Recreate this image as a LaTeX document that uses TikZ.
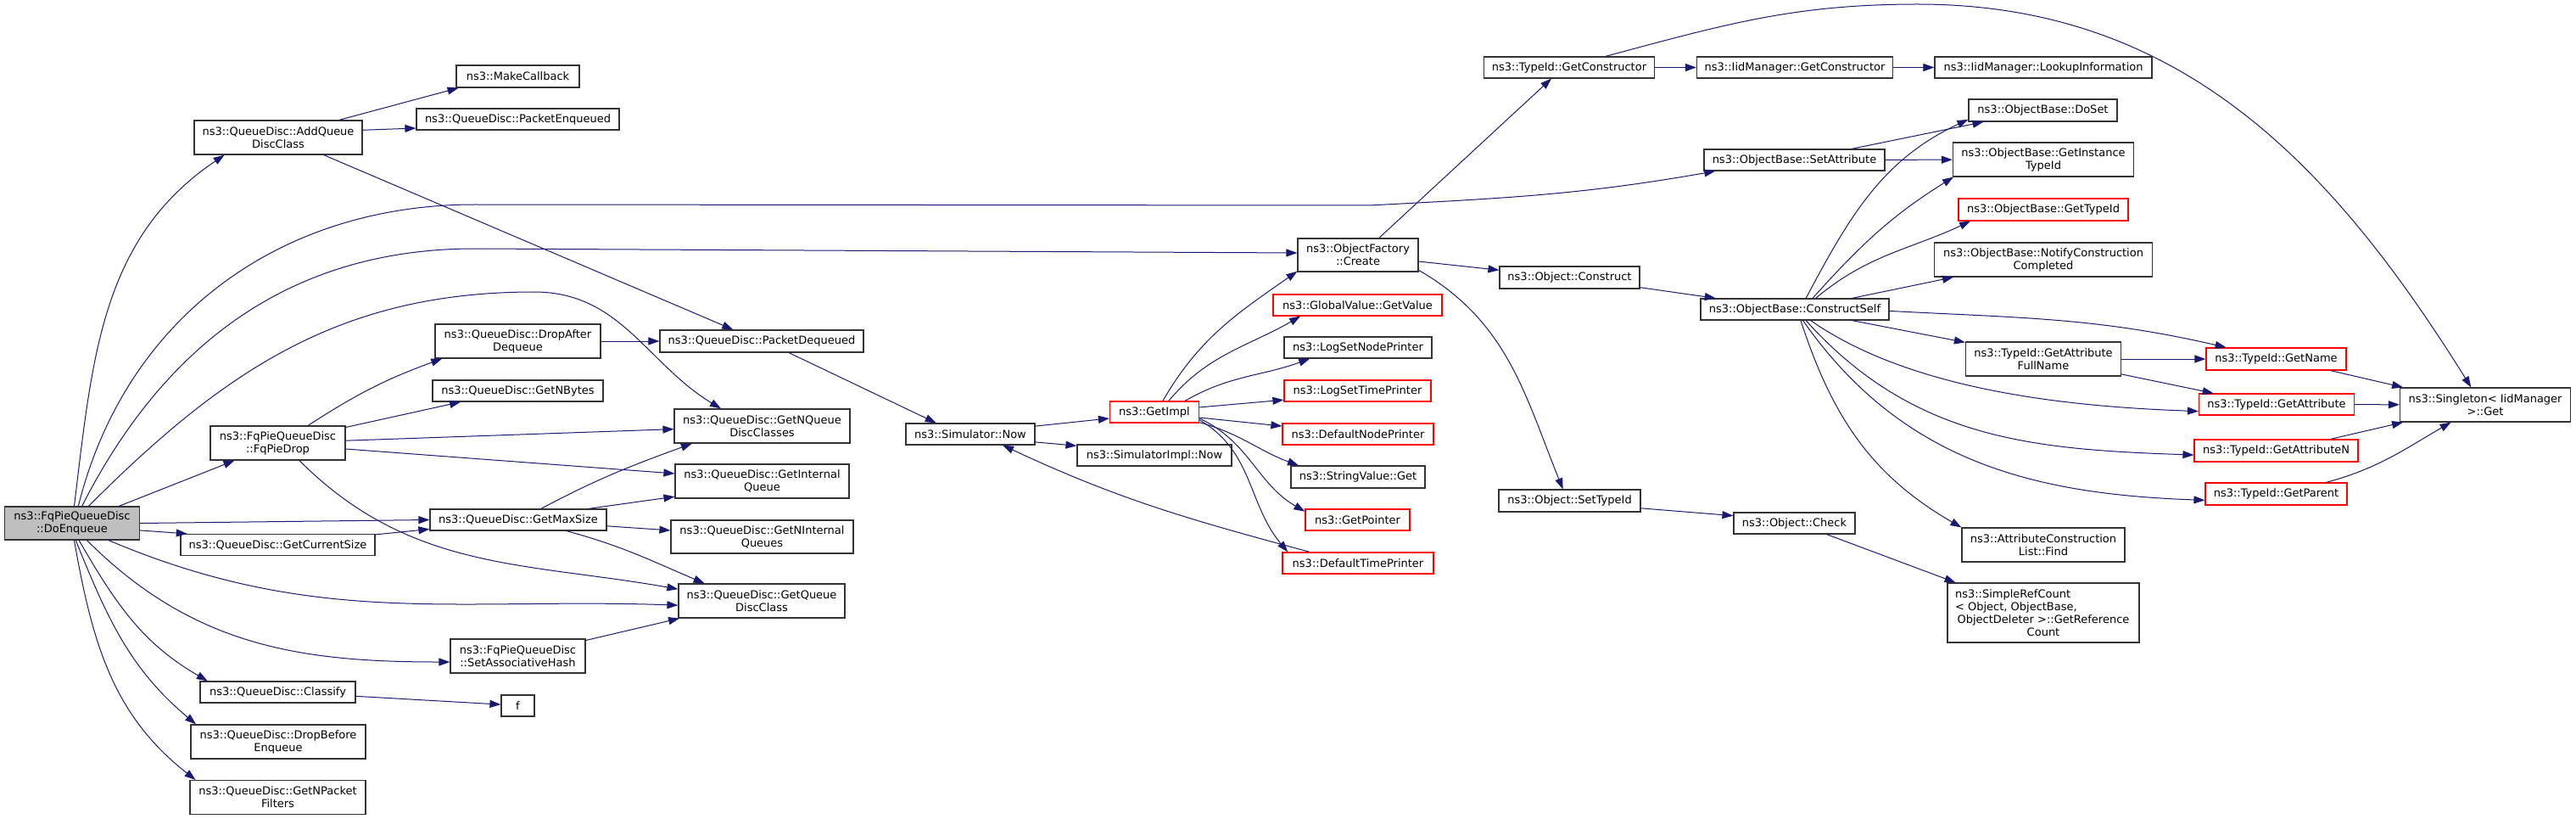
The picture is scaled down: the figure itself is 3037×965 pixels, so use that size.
\documentclass[tikz,border=0pt]{standalone}
\usepackage{fontspec}
\setmainfont{DejaVu Sans}
\usetikzlibrary{arrows.meta}
\definecolor{edgeblue}{RGB}{25,25,112}
\definecolor{rootgray}{RGB}{191,191,191}

\begin{document}
\begin{tikzpicture}[x=1pt,y=1pt,->,>={Triangle[length=13pt,width=9pt]},
  every edge/.style={draw=edgeblue,line width=1pt},
  call/.style={draw=edgeblue,line width=1pt},
  fn node/.style={rectangle,draw=black!80,fill=white,line width=1.2pt,inner sep=0pt,
    align=center,font=\fontsize{13}{15}\selectfont},
  miss node/.style={fn node,draw=red},
  root node/.style={fn node,fill=rootgray},
  wh/.style 2 args={minimum width=#1pt,minimum height=#2pt}]

  \useasboundingbox (0,0) rectangle (3037,-965);

  \node[root node,wh={159}{39}] (enq) at (85,-616.5) {ns3::FqPieQueueDisc\\::DoEnqueue};
  \node[fn node,wh={198}{40}] (addq) at (328,-162) {ns3::QueueDisc::AddQueue\\DiscClass};
  \node[fn node,wh={145}{26}] (mkcb) at (610.5,-90) {ns3::MakeCallback};
  \node[fn node,wh={239}{25}] (penq) at (610.5,-140.5) {ns3::QueueDisc::PacketEnqueued};
  \node[fn node,wh={159}{40}] (fqdrop) at (327.5,-522) {ns3::FqPieQueueDisc\\::FqPieDrop};
  \node[fn node,wh={229}{25}] (cursize) at (327.5,-642) {ns3::QueueDisc::GetCurrentSize};
  \node[fn node,wh={183}{25}] (classify) at (327.5,-815.5) {ns3::QueueDisc::Classify};
  \node[fn node,wh={206}{40}] (dropbefore) at (328,-874) {ns3::QueueDisc::DropBefore\\Enqueue};
  \node[fn node,wh={207}{40}] (npf) at (327.5,-939.5) {ns3::QueueDisc::GetNPacket\\Filters};
  \node[fn node,wh={195}{40}] (dropafter) at (610.5,-402) {ns3::QueueDisc::DropAfter\\Dequeue};
  \node[fn node,wh={201}{25}] (nbytes) at (610.5,-460.5) {ns3::QueueDisc::GetNBytes};
  \node[fn node,wh={208}{25}] (maxsize) at (611,-612.5) {ns3::QueueDisc::GetMaxSize};
  \node[fn node,wh={159}{40}] (sethash) at (610.5,-773) {ns3::FqPieQueueDisc\\::SetAssociativeHash};
  \node[fn node,wh={39}{25}] (f) at (610.5,-831.5) {f};
  \node[fn node,wh={240}{26}] (pdeq) at (898,-402) {ns3::QueueDisc::PacketDequeued};
  \node[fn node,wh={207}{40}] (nqdc) at (898.5,-502) {ns3::QueueDisc::GetNQueue\\DiscClasses};
  \node[fn node,wh={205}{40}] (intq) at (898.5,-567) {ns3::QueueDisc::GetInternal\\Queue};
  \node[fn node,wh={215}{39}] (niq) at (898.5,-632.5) {ns3::QueueDisc::GetNInternal\\Queues};
  \node[fn node,wh={196}{40}] (qdc) at (898,-708) {ns3::QueueDisc::GetQueue\\DiscClass};
  \node[fn node,wh={152}{25}] (simnow) at (1144,-511.5) {ns3::Simulator::Now};
  \node[miss node,wh={105}{25}] (getimpl) at (1361,-485.5) {ns3::GetImpl};
  \node[fn node,wh={182}{25}] (implnow) at (1361,-536.5) {ns3::SimulatorImpl::Now};
  \node[fn node,wh={142}{39}] (create) at (1601,-300.5) {ns3::ObjectFactory\\::Create};
  \node[miss node,wh={199}{25}] (gval) at (1600.5,-359.5) {ns3::GlobalValue::GetValue};
  \node[fn node,wh={174}{25}] (lognode) at (1601,-409.5) {ns3::LogSetNodePrinter};
  \node[miss node,wh={173}{25}] (logtime) at (1600.5,-460.5) {ns3::LogSetTimePrinter};
  \node[miss node,wh={178}{25}] (defnode) at (1601,-511.5) {ns3::DefaultNodePrinter};
  \node[fn node,wh={158}{26}] (strget) at (1601,-562) {ns3::StringValue::Get};
  \node[miss node,wh={123}{25}] (getptr) at (1600.5,-612.5) {ns3::GetPointer};
  \node[miss node,wh={178}{25}] (deftime) at (1601,-663.5) {ns3::DefaultTimePrinter};
  \node[fn node,wh={201}{25}] (tgetctor) at (1850,-79.5) {ns3::TypeId::GetConstructor};
  \node[fn node,wh={231}{25}] (iidctor) at (2116,-79.5) {ns3::IidManager::GetConstructor};
  \node[fn node,wh={256}{25}] (lookup) at (2409,-79.5) {ns3::IidManager::LookupInformation};
  \node[fn node,wh={213}{25}] (setattr) at (2115.5,-188.5) {ns3::ObjectBase::SetAttribute};
  \node[fn node,wh={165}{26}] (construct) at (1850.5,-327) {ns3::Object::Construct};
  \node[fn node,wh={167}{26}] (settid) at (1850.5,-590) {ns3::Object::SetTypeId};
  \node[fn node,wh={222}{25}] (cself) at (2116,-364.5) {ns3::ObjectBase::ConstructSelf};
  \node[fn node,wh={143}{25}] (check) at (2115.5,-616.5) {ns3::Object::Check};
  \node[fn node,wh={175}{26}] (doset) at (2408.5,-130) {ns3::ObjectBase::DoSet};
  \node[fn node,wh={213}{40}] (insttid) at (2409,-188) {ns3::ObjectBase::GetInstance\\TypeId};
  \node[miss node,wh={200}{26}] (gettid) at (2409,-247) {ns3::ObjectBase::GetTypeId};
  \node[fn node,wh={257}{40}] (notify) at (2409,-306) {ns3::ObjectBase::NotifyConstruction\\Completed};
  \node[fn node,wh={183}{40}] (attrfull) at (2409,-423) {ns3::TypeId::GetAttribute\\FullName};
  \node[fn node,wh={192}{40}] (aclfind) at (2409,-642) {ns3::AttributeConstruction\\List::Find};
  \node[fn node,wh={226}{70}] (refcount) at (2409,-722)
    {\makebox[208pt][l]{ns3::SimpleRefCount}\\\makebox[208pt][l]{< Object, ObjectBase,}\\ObjectDeleter >::GetReference\\Count};
  \node[miss node,wh={165}{26}] (gname) at (2683.5,-423) {ns3::TypeId::GetName};
  \node[miss node,wh={183}{25}] (gattr) at (2684,-476.5) {ns3::TypeId::GetAttribute};
  \node[miss node,wh={193}{26}] (gattrn) at (2683.5,-531) {ns3::TypeId::GetAttributeN};
  \node[miss node,wh={167}{26}] (gparent) at (2683.5,-582) {ns3::TypeId::GetParent};
  \node[fn node,wh={201}{40}] (singleton) at (2930,-477) {ns3::Singleton< IidManager\\ >::Get};

  % long calls that run across the graph
  \draw[call] (enq.70) to[out=76,in=180] (560,-241) -- (1614,-242) to[out=3,in=190] (setattr.188);
  \draw[call] (enq.60) to[out=63,in=180] (560,-293) -- (create.178);
  \draw[call] (enq.46) to[out=45,in=180] (630,-344) to[out=0,in=149] (nqdc.157);
  \draw[call] (tgetctor.17) to[out=15,in=180] (2261,-5) to[out=0,in=122] (singleton.129);

  \path
    (enq.83) edge[out=83,in=214] (addq.198)
    (enq.20) edge (fqdrop.202)
    (enq.0) edge (maxsize.180)
    (enq.-6) edge (cursize.173)
    (enq.-25) edge[out=-23,in=178] (qdc.183)
    (enq.-49) edge[out=-45,in=180] (sethash.185)
    (enq.-68) edge[out=-60,in=150] (classify.171)
    (enq.-78) edge[out=-68,in=140] (dropbefore.168)
    (enq.-83) edge[out=-80,in=142] (npf.168)
    (addq.16) edge (mkcb.191)
    (addq.5) edge (penq.185)
    (addq.-21) edge (pdeq.158)
    (fqdrop.30) edge[out=33,in=200] (dropafter.193)
    (fqdrop.13) edge (nbytes.191)
    (fqdrop.2) edge (nqdc.182)
    (fqdrop.-5) edge (intq.175)
    (fqdrop.-39) edge[out=-45,in=170] (qdc.172)
    (cursize.6) edge (maxsize.186)
    (maxsize.26) edge[out=28,in=200] (nqdc.194)
    (maxsize.9) edge (intq.190)
    (maxsize.-4) edge (niq.176)
    (maxsize.-13) edge[out=-15,in=157] (qdc.163)
    (sethash.13) edge (qdc.192)
    (classify.-3) edge (f.176)
    (dropafter) edge (pdeq)
    (pdeq.-23) edge (simnow.162)
    (simnow.7) edge (getimpl.188)
    (simnow.-7) edge (implnow.173)
    (deftime.167) edge[out=165,in=-25] (simnow.-19)
    (getimpl.53) edge[out=60,in=215] (create.195)
    (getimpl.38) edge[out=50,in=210] (gval.191)
    (getimpl.20) edge[out=30,in=200] (lognode.193)
    (getimpl.6) edge (logtime.187)
    (getimpl.-7) edge (defnode.174)
    (getimpl.-13) edge[out=-15,in=160] (strget.169)
    (getimpl.-8) edge[out=-25,in=150] (getptr.171)
    (getimpl.-10) edge[out=-30,in=130] (deftime.171)
    (create.39) edge (tgetctor.212)
    (create.-6) edge (construct.174)
    (create.-14) edge[out=-30,in=112] (settid.120)
    (tgetctor) edge (iidctor)
    (iidctor) edge (lookup)
    (setattr.11) edge (doset.191)
    (setattr) edge (insttid)
    (construct.-8) edge (cself.172)
    (settid.-6) edge (check.173)
    (check.-19) edge (refcount.161)
    (cself.45) edge[out=62,in=205] (doset.187)
    (cself.32) edge[out=48,in=212] (insttid.191)
    (cself.28) edge[out=40,in=205] (gettid.189)
    (cself.11) edge (notify.191)
    (cself.-1) edge[out=-3,in=167] (gname.167)
    (cself.-11) edge (attrfull.168)
    (cself.-35) edge[out=-35,in=178,looseness=0.8] (gattr.185)
    (cself.-45) edge[out=-48,in=178] (gattrn.183)
    (cself.-54) edge[out=-55,in=178] (gparent.185)
    (cself.-62) edge[out=-72,in=150] (aclfind.168)
    (attrfull) edge (gname)
    (attrfull.-11) edge (gattr.170)
    (gname.-12) edge (singleton.168)
    (gattr) edge (singleton)
    (gattrn.12) edge (singleton.192)
    (gparent.13) edge[out=15,in=210] (singleton.207);
\end{tikzpicture}
\end{document}
